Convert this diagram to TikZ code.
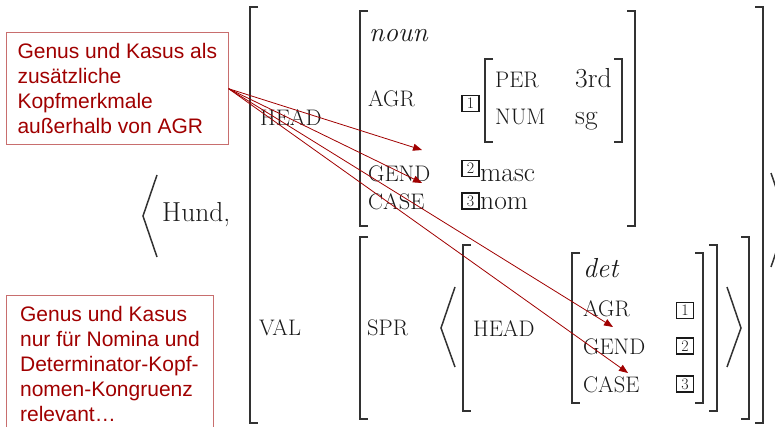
\documentclass[tikz,border=0pt]{standalone}
\usepackage{fontspec}
\newfontfamily\notefont{Liberation Sans}
\usetikzlibrary{arrows.meta}
\definecolor{notered}{RGB}{160,0,0}
\definecolor{noteframe}{RGB}{200,110,110}
\definecolor{avmgray}{RGB}{50,50,50}
\definecolor{avmtext}{RGB}{25,25,25}
\tikzset {
  % bracket and angle strokes
  brk/.style = {
    draw = avmgray,
    line width = 1.5pt
  },
  avm text/.style = {
    anchor = base west,
    inner sep = 0,
    text = avmtext
  },
  % feature names
  feat/.style = {
    avm text,
    font = \fontsize{22.5}{25}\selectfont
  },
  % atomic values
  val/.style = {
    avm text,
    font = \fontsize{27.5}{30}\selectfont
  },
  % type of a feature structure
  type/.style = {
    avm text,
    font = \fontsize{27.5}{30}\selectfont\itshape
  },
  % coreference tag
  tag/.style = {
    draw = avmtext,
    line width = 1.8pt,
    minimum width = 17pt,
    minimum height = 16pt,
    inner sep = 0,
    text = avmtext,
    font = \fontsize{16}{17}\selectfont
  },
  % red comment boxes
  note/.style = {
    draw = noteframe,
    line width = 1pt,
    text = notered,
    align = left,
    inner sep = 11pt,
    font = \notefont\fontsize{21}{25}\selectfont
  },
  arr/.style = {
    draw = notered,
    line width = 0.8pt,
    -{Triangle[length = 9pt, width = 7pt]}
  }
}

\begin{document}
\begin{tikzpicture}[x = 1pt, y = -1pt]
  \useasboundingbox (0,0) rectangle (775,427);
  \clip (0,0) rectangle (775,427);

  \node[note, anchor = north west] (genus) at (6,32)
    {Genus und Kasus als\\zusätzliche\\Kopfmerkmale\\außerhalb von AGR};
  \node[note, anchor = north west, minimum width = 207pt] (nomina) at (6,295)
    {Genus und Kasus\\nur für Nomina und\\Determinator-Kopf-\\nomen-Kongruenz\\relevant…};

  \node[val] (hund) at (162,222) {Hund,};
  \draw[brk] (157,175) -- (143,216) -- (157,257);
  \draw[brk] (771,173) -- (787,220) -- (771,267);

  % outer matrix
  \draw[brk] (258,7) -- (250,7) -- (250,423) -- (258,423);
  \draw[brk] (755,7) -- (763,7) -- (763,423) -- (755,423);
  \node[feat] (head) at (260,126) {HEAD};
  \node[feat] (val) at (259,335) {VAL};

  % head value
  \draw[brk] (368,11) -- (360,11) -- (360,226) -- (368,226);
  \draw[brk] (627,11) -- (635,11) -- (635,226) -- (627,226);
  \node[type] (noun) at (369,42) {noun};
  \node[feat] (agr) at (368,107) {AGR};
  \node[tag] (tagi) at (470.5,103.5) {1};
  \draw[brk] (493,59) -- (485,59) -- (485,142) -- (493,142);
  \draw[brk] (614,59) -- (622,59) -- (622,142) -- (614,142);
  \node[feat] (per) at (495,88) {PER};
  \node[val] (third) at (575,88) {3rd};
  \node[feat] (num) at (495,125) {NUM};
  \node[val] (sg) at (575,125) {sg};
  \node[feat] (gend) at (368,182) {GEND};
  \node[tag] (tagii) at (470.5,168.5) {2};
  \node[val] (masc) at (480,182) {masc};
  \node[feat] (case) at (368,210) {CASE};
  \node[tag] (tagiii) at (470.5,201) {3};
  \node[val] (nom) at (480,210) {nom};

  % val value
  \draw[brk] (368,237) -- (360,237) -- (360,419) -- (368,419);
  \draw[brk] (741,237) -- (749,237) -- (749,419) -- (741,419);
  \node[feat] (spr) at (367,335) {SPR};
  \draw[brk] (455,287) -- (441,328) -- (455,367);
  \draw[brk] (727,287) -- (741,328) -- (727,367);
  \draw[brk] (471,245) -- (463,245) -- (463,411) -- (471,411);
  \draw[brk] (709,245) -- (717,245) -- (717,411) -- (709,411);
  \node[feat] (sprhead) at (473,336) {HEAD};
  \draw[brk] (580,253) -- (572,253) -- (572,403) -- (580,403);
  \draw[brk] (695,253) -- (703,253) -- (703,403) -- (695,403);
  \node[type] (det) at (583,277) {det};
  \node[feat] (detagr) at (583,316) {AGR};
  \node[tag] (dettagi) at (685,310.5) {1};
  \node[feat] (detgend) at (583,354) {GEND};
  \node[tag] (dettagii) at (685,346) {2};
  \node[feat] (detcase) at (583,392) {CASE};
  \node[tag] (dettagiii) at (685,384) {3};

  \coordinate (gendtip) at (422,150);
  \coordinate (casetip) at (422,183);
  \coordinate (detagrtip) at (613,327);
  \coordinate (detcasetip) at (628,373);

  \draw[arr] (genus.east) -- (gendtip);
  \draw[arr] (genus.east) -- (casetip);
  \draw[arr] (genus.east) -- (detagrtip);
  \draw[arr] (genus.east) -- (detcasetip);
\end{tikzpicture}
\end{document}
